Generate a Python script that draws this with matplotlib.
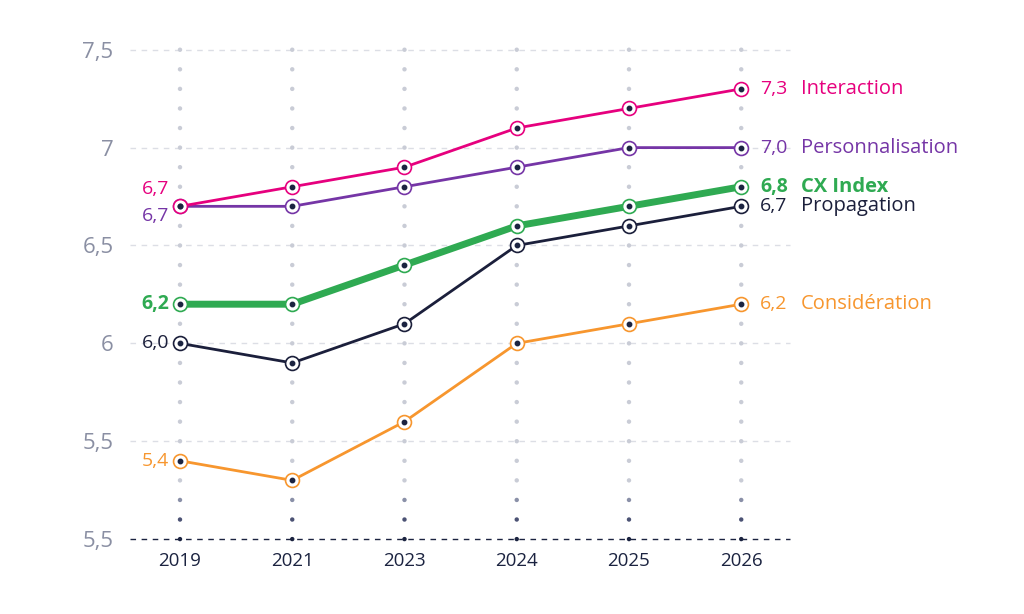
import matplotlib.pyplot as plt

# 데이터
years = ['2019', '2021', '2023', '2024', '2025', '2026']
interaction = [6.7, 6.8, 6.9, 7.1, 7.2, 7.3]
personnalisation = [6.7, 6.7, 6.8, 6.9, 7.0, 7.0]
cx_index = [6.2, 6.2, 6.4, 6.6, 6.7, 6.8]
propagation = [6.0, 5.9, 6.1, 6.5, 6.6, 6.7]
consideration = [5.4, 5.3, 5.6, 6.0, 6.1, 6.2]
y_ticks = [5.0, 5.5, 6.0, 6.5, 7.0, 7.5]
y_tick_labels = ['5,5', '5,5', '6', '6,5', '7', '7,5']

plt.rcParams['font.family'] = ['Open Sans', 'DejaVu Sans']

navy = '#1b2340'
grey = '#8a8fa3'

series = [
    # name, values, color, linewidth, bold, left label offset (px)
    ('Considération', consideration, '#f7962e', 2.0, False, 0),
    ('Propagation', propagation, '#1b1f3b', 2.0, False, 0),
    ('Personnalisation', personnalisation, '#7535a6', 2.0, False, -10),
    ('Interaction', interaction, '#e6007e', 2.0, False, 17),
    ('CX Index', cx_index, '#2faa52', 5.0, True, 0),
]

fig = plt.figure(figsize=(10.24, 6.14), dpi=100)
ax = fig.add_axes([0.127, 0.122, 0.644, 0.797])

x = list(range(len(years)))
ax.set_xlim(-0.445, 5.43)
ax.set_ylim(5.0, 7.5)

# 가로 점선 그리드
for t in y_ticks:
    c = navy if t == 5.0 else '#dcdee5'
    ax.axhline(t, color=c, lw=1, ls=(0, (4, 4)), zorder=0, clip_on=False)

# 세로 점 열
dot_y = [5.0 + 0.1 * i for i in range(26)]
for xi in x:
    cols = []
    for v in dot_y:
        if v < 5.05:
            cols.append(navy)
        elif v < 5.15:
            cols.append('#4b5274')
        elif v < 5.25:
            cols.append('#8a90a8')
        else:
            cols.append('#c9ccd6')
    ax.scatter([xi] * len(dot_y), dot_y, s=10, c=cols, zorder=1, clip_on=False, linewidths=0)

# 라인
for name, vals, color, lw, bold, off in series:
    ax.plot(x, vals, color=color, lw=lw, zorder=3, solid_capstyle='round',
            marker='o', ms=10, mfc='white', mec=color, mew=1.2)
    ax.plot(x, vals, ls='none', marker='o', ms=3.2, color=navy, zorder=4)
    weight = 'bold' if bold else 'normal'
    # 왼쪽 값
    ax.annotate(f'{vals[0]:.1f}'.replace('.', ','), (x[0], vals[0]),
                xytext=(-11, off), textcoords='offset pixels',
                ha='right', va='center', color=color, fontsize=14, fontweight=weight)
    # 오른쪽 값 + 이름
    ax.annotate(f'{vals[-1]:.1f}'.replace('.', ','), (x[-1], vals[-1]),
                xytext=(19, 0), textcoords='offset pixels',
                ha='left', va='center', color=color, fontsize=14, fontweight=weight)
    ax.annotate(name, (x[-1], vals[-1]),
                xytext=(60, 0), textcoords='offset pixels',
                ha='left', va='center', color=color, fontsize=14.5, fontweight=weight)

ax.set_yticks(y_ticks)
ax.set_yticklabels(y_tick_labels, color=grey, fontsize=16)
ax.set_xticks(x)
ax.set_xticklabels(years, color=navy, fontsize=13.5, fontweight='medium')
ax.tick_params(axis='y', length=0, pad=12)
ax.tick_params(axis='x', length=0, pad=9)
for s in ax.spines.values():
    s.set_visible(False)

plt.savefig('out.png', dpi=100)
